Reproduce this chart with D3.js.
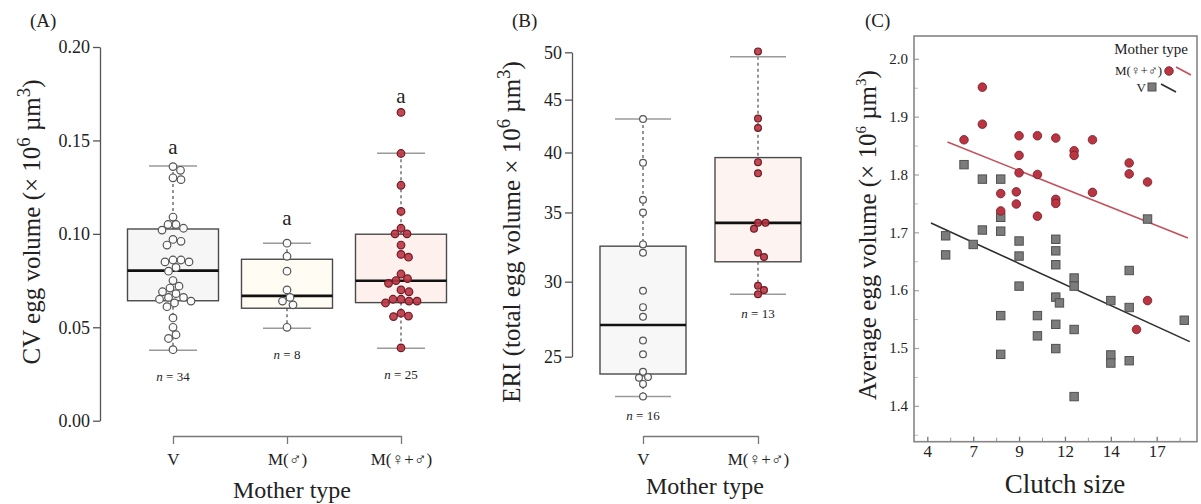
<!DOCTYPE html>
<html>
<head>
<meta charset="utf-8">
<script src="https://cdn.jsdelivr.net/npm/d3@7"></script>
<style>
  body { margin: 0; background: #fff; }
  svg text { font-family: "Liberation Serif", "Times New Roman", serif; fill: #222; }
</style>
</head>
<body>
<svg id="fig" width="1201" height="504"></svg>
<script>
// ---- panel A : CV egg volume by mother type ----
var catsA = ['V', 'M(\u2642)', 'M(\u2640+\u2642)'];
var cvV = [0.136, 0.134, 0.129, 0.130, 0.109, 0.105, 0.103, 0.102, 0.105, 0.097, 0.096, 0.094,
           0.086, 0.085, 0.085, 0.086, 0.082, 0.080, 0.075, 0.072, 0.071, 0.069, 0.068, 0.066,
           0.065, 0.066, 0.064, 0.063, 0.061, 0.055, 0.050, 0.046, 0.044, 0.038];
var cvMm = [0.095, 0.088, 0.080, 0.070, 0.066, 0.064, 0.062, 0.050];
var cvMfm = [0.165, 0.143, 0.126, 0.112, 0.103, 0.100, 0.100, 0.094, 0.089, 0.0875, 0.0785, 0.076,
             0.075, 0.0735, 0.070, 0.069, 0.065, 0.064, 0.063, 0.064, 0.065, 0.0575, 0.0557, 0.056, 0.039];
var q1A = [0.0642, 0.0602, 0.0632];
var medA = [0.0803, 0.0668, 0.0749];
var q3A = [0.1026, 0.0864, 0.0998];
var loA = [0.0377, 0.0495, 0.0388];
var hiA = [0.1363, 0.0950, 0.1431];
var nA = [34, 8, 25];
var letterA = ['a', 'a', 'a'];
var letterYA = [0.143, 0.105, 0.170];
var yTicksA = [0, 0.05, 0.10, 0.15, 0.20];

// ---- panel B : ERI by mother type ----
var catsB = ['V', 'M(\u2640+\u2642)'];
var eriV = [43.1, 39.1, 36.0, 35.0, 32.6, 32.0, 29.35, 28.2, 27.55, 26.0, 25.15, 24.1, 23.8, 23.75, 23.4, 22.7];
var eriM = [50.1, 43.15, 42.25, 39.15, 38.2, 34.2, 34.2, 33.75, 32.0, 31.7, 29.7, 29.4, 29.1];
var q1B = [23.97, 31.36];
var medB = [27.0, 34.2];
var q3B = [32.47, 39.55];
var loB = [22.7, 29.1];
var hiB = [43.1, 49.5];
var nB = [16, 13];
var yTicksB = [25, 30, 35, 40, 45, 50];

// ---- panel C : average egg volume vs clutch size ----
var xRed = [6, 7, 7, 9, 9, 9, 10, 10, 11, 12, 12, 13, 15, 15, 16, 8, 8.85, 8, 8.85, 10, 11, 11, 13, 16, 15.4];
var yRed = [1.860, 1.951, 1.887, 1.867, 1.833, 1.803, 1.867, 1.800, 1.863, 1.841, 1.833, 1.860, 1.820,
            1.801, 1.787, 1.767, 1.770, 1.737, 1.749, 1.728, 1.757, 1.750, 1.769, 1.582, 1.532];
var xGray = [6, 7, 8, 8, 7, 8, 5, 6.5, 9, 11, 16, 5, 9, 11, 11, 12, 12, 9, 11, 11.2, 14, 15, 15, 18,
             8, 10, 11, 12, 10, 11, 8, 14, 14, 15, 12];
var yGray = [1.817, 1.792, 1.792, 1.726, 1.704, 1.702, 1.694, 1.679, 1.685, 1.688, 1.723, 1.661, 1.659,
             1.668, 1.644, 1.621, 1.607, 1.607, 1.588, 1.578, 1.582, 1.634, 1.570, 1.548, 1.556, 1.556,
             1.541, 1.532, 1.521, 1.499, 1.489, 1.488, 1.474, 1.478, 1.416];
var fitRedX = [5.1, 18.2], fitRedY = [1.856, 1.690];
var fitGrayX = [4.2, 18.3], fitGrayY = [1.716, 1.511];
var xTicksC = [4, 6.5, 9, 11.5, 14, 16.5];
var xTickLabelsC = ['4', '7', '9', '12', '14', '17'];
var xMinorC = [5.25, 7.75, 10.25, 12.75, 15.25, 17.75];
var yTicksC = [1.4, 1.5, 1.6, 1.7, 1.8, 1.9, 2.0];
var yMinorC = [1.35, 1.45, 1.55, 1.65, 1.75, 1.85, 1.95];

var RED = '#bb3442', RED_STROKE = '#6e1c24';

var svg = d3.select('#fig');

// simple beeswarm: push each point sideways until it no longer overlaps
function swarm(vals, y, cx, r) {
  var pts = vals.map(v => ({v: v, py: y(v)})).sort((a, b) => a.py - b.py);
  var placed = [];
  var d = r * 2.1;
  pts.forEach(p => {
    for (var k = 0; k < 400; k++) {
      var off = (k % 2 ? 1 : -1) * Math.ceil(k / 2) * 0.5;
      var ok = placed.every(q => (q.px - (cx + off)) ** 2 + (q.py - p.py) ** 2 >= d * d);
      if (ok) { p.px = cx + off; break; }
    }
    placed.push(p);
  });
  return pts;
}

function boxPanel(g, cats, x, y, groups, st, opt) {
  cats.forEach((c, i) => {
    var cx = x(c), w = opt.boxW;
    // whiskers
    g.append('line').attr('x1', cx).attr('x2', cx).attr('y1', y(st.hi[i])).attr('y2', y(st.q3[i]))
      .attr('stroke', '#666').attr('stroke-width', 1.4).attr('stroke-dasharray', '3,3');
    g.append('line').attr('x1', cx).attr('x2', cx).attr('y1', y(st.q1[i])).attr('y2', y(st.lo[i]))
      .attr('stroke', '#666').attr('stroke-width', 1.4).attr('stroke-dasharray', '3,3');
    [st.hi[i], st.lo[i]].forEach(v => {
      g.append('line').attr('x1', cx - opt.capW).attr('x2', cx + opt.capW)
        .attr('y1', y(v)).attr('y2', y(v)).attr('stroke', '#9a9a9a').attr('stroke-width', 1.5);
    });
    g.append('rect').attr('x', cx - w / 2).attr('width', w)
      .attr('y', y(st.q3[i])).attr('height', y(st.q1[i]) - y(st.q3[i]))
      .attr('fill', opt.fills[i]).attr('stroke', '#4a4a4a').attr('stroke-width', 1.4);
    g.append('line').attr('x1', cx - w / 2).attr('x2', cx + w / 2)
      .attr('y1', y(st.med[i])).attr('y2', y(st.med[i])).attr('stroke', '#111').attr('stroke-width', 2.6);

    var red = opt.red[i];
    g.selectAll('circle.p' + i).data(swarm(groups[i], y, cx, opt.r)).join('circle')
      .attr('class', 'p' + i)
      .attr('cx', d => d.px).attr('cy', d => d.py).attr('r', opt.r)
      .attr('fill', red ? RED : '#fbfbfb').attr('fill-opacity', red ? 0.9 : 1)
      .attr('stroke', red ? RED_STROKE : '#555').attr('stroke-width', 1.2);

    g.append('text').attr('x', cx).attr('y', y(st.lo[i]) + opt.nOff)
      .attr('text-anchor', 'middle').attr('font-size', 13)
      .html('<tspan font-style="italic">n</tspan> = ' + opt.n[i]);
    if (opt.letters) {
      g.append('text').attr('x', cx).attr('y', y(opt.letterY[i]))
        .attr('text-anchor', 'middle').attr('font-size', 21).text(opt.letters[i]);
    }
  });
}

function styleAxis(sel, size) {
  sel.selectAll('text').attr('font-size', size).attr('fill', '#333')
    .style('font-family', '"Liberation Serif", serif');
  sel.selectAll('line').attr('stroke', '#555').attr('stroke-width', 1.3);
  sel.selectAll('path').attr('stroke', '#555').attr('stroke-width', 1.3);
}

function yTitle(x, y, size, main, sup1, mid, sup2, end, supSize) {
  var t = svg.append('text').attr('transform', `translate(${x},${y}) rotate(-90)`)
    .attr('text-anchor', 'middle').attr('font-size', size);
  t.append('tspan').text(main);
  t.append('tspan').attr('dy', -size * 0.42).attr('font-size', size * supSize).text(sup1);
  t.append('tspan').attr('dy', size * 0.42).text(mid);
  t.append('tspan').attr('dy', -size * 0.42).attr('font-size', size * supSize).text(sup2);
  t.append('tspan').attr('dy', size * 0.42).text(end);
}

// ================= Panel A =================
var xA = d3.scalePoint().domain(catsA).range([173, 401]);
var yA = d3.scaleLinear().domain([0, 0.2]).range([420.7, 47]);
var gA = svg.append('g');

gA.append('g').attr('transform', 'translate(100,0)')
  .call(d3.axisLeft(yA).tickValues(yTicksA).tickFormat(d3.format('.2f')).tickSize(7).tickSizeOuter(0).tickPadding(3))
  .call(s => styleAxis(s, 18));
gA.append('g').attr('transform', 'translate(0,436)')
  .call(d3.axisBottom(xA).tickSize(8).tickSizeOuter(0).tickPadding(9))
  .call(s => styleAxis(s, 17))
  .call(s => s.selectAll('line, path').attr('stroke', '#777'));

boxPanel(gA, catsA, xA, yA, [cvV, cvMm, cvMfm],
  {q1: q1A, med: medA, q3: q3A, lo: loA, hi: hiA},
  {boxW: 91, capW: 24, r: 3.8, fills: ['#f6f6f6', '#fffdf3', '#fdf0ed'], red: [false, false, true],
   n: nA, nOff: 31, letters: letterA, letterY: letterYA});

svg.append('text').attr('x', 30).attr('y', 27).attr('font-size', 19).text('(A)');
yTitle(40, 222, 25, 'CV egg volume (\u00d7 10', '6', ' \u00b5m', '3', ')', 0.75);
svg.append('text').attr('x', 292).attr('y', 498).attr('text-anchor', 'middle').attr('font-size', 24).text('Mother type');

// ================= Panel B =================
var xB = d3.scalePoint().domain(catsB).range([643, 758]);
var yB = d3.scaleLog().domain([25, 30, 50]).range([356.7, 281.7, 52.3]);
var gB = svg.append('g');

gB.append('g').attr('transform', 'translate(572,0)')
  .call(d3.axisLeft(yB).tickValues(yTicksB).tickFormat(d3.format('d')).tickSize(7).tickSizeOuter(0).tickPadding(3))
  .call(s => styleAxis(s, 18));
gB.append('g').attr('transform', 'translate(0,436)')
  .call(d3.axisBottom(xB).tickSize(8).tickSizeOuter(0).tickPadding(9))
  .call(s => styleAxis(s, 17))
  .call(s => s.selectAll('line, path').attr('stroke', '#777'));

boxPanel(gB, catsB, xB, yB, [eriV, eriM],
  {q1: q1B, med: medB, q3: q3B, lo: loB, hi: hiB},
  {boxW: 86, capW: 28, r: 3.4, fills: ['#f7f7f7', '#fdf4f1'], red: [false, true], n: nB, nOff: 24});

svg.append('text').attr('x', 512).attr('y', 27).attr('font-size', 19).text('(B)');
yTitle(520, 232, 25, 'ERI (total egg volume \u00d7 10', '6', ' \u00b5m', '3', ')', 0.75);
svg.append('text').attr('x', 705).attr('y', 494).attr('text-anchor', 'middle').attr('font-size', 24).text('Mother type');

// ================= Panel C =================
var xC = d3.scaleLinear().domain([3.275, 18.75]).range([914, 1198]);
var yC = d3.scaleLinear().domain([1.338, 2.036]).range([441.7, 38]);
var gC = svg.append('g');

gC.append('g').attr('transform', 'translate(914,0)')
  .call(d3.axisLeft(yC).tickValues(yTicksC).tickFormat(d3.format('.1f')).tickSize(-5).tickPadding(6))
  .call(s => styleAxis(s, 15))
  .call(s => s.select('.domain').remove())
  .call(s => s.selectAll('line').attr('stroke', '#aaa'));
gC.append('g').attr('transform', 'translate(914,0)')
  .call(d3.axisLeft(yC).tickValues(yMinorC).tickFormat('').tickSize(-4))
  .call(s => s.select('.domain').remove())
  .call(s => s.selectAll('line').attr('stroke', '#bbb'));
gC.append('g').attr('transform', 'translate(0,441.7)')
  .call(d3.axisBottom(xC).tickValues(xTicksC).tickFormat((d, i) => xTickLabelsC[i]).tickSize(-5).tickPadding(3))
  .call(s => styleAxis(s, 17))
  .call(s => s.select('.domain').remove())
  .call(s => s.selectAll('line').attr('stroke', '#777'));
gC.append('g').attr('transform', 'translate(0,441.7)')
  .call(d3.axisBottom(xC).tickValues(xMinorC).tickFormat('').tickSize(-4))
  .call(s => s.select('.domain').remove())
  .call(s => s.selectAll('line').attr('stroke', '#999'));

gC.append('rect').attr('x', 914).attr('y', 36).attr('width', 283).attr('height', 405.7)
  .attr('fill', 'none').attr('stroke', '#858585').attr('stroke-width', 1.6);

var line = d3.line().x(d => xC(d[0])).y(d => yC(d[1]));
gC.append('path').attr('d', line(d3.zip(fitRedX, fitRedY)))
  .attr('stroke', '#c4505c').attr('stroke-width', 1.6).attr('fill', 'none');
gC.append('path').attr('d', line(d3.zip(fitGrayX, fitGrayY)))
  .attr('stroke', '#2e2e2e').attr('stroke-width', 1.6).attr('fill', 'none');

gC.selectAll('rect.sq').data(d3.zip(xGray, yGray)).join('rect').attr('class', 'sq')
  .attr('x', d => xC(d[0]) - 4.2).attr('y', d => yC(d[1]) - 4.2)
  .attr('width', 8.4).attr('height', 8.4)
  .attr('fill', '#7c7c7c').attr('stroke', '#505050').attr('stroke-width', 1);
gC.selectAll('circle.pt').data(d3.zip(xRed, yRed)).join('circle').attr('class', 'pt')
  .attr('cx', d => xC(d[0])).attr('cy', d => yC(d[1])).attr('r', 4.3)
  .attr('fill', RED).attr('stroke', RED_STROKE).attr('stroke-width', 0.8);

// legend
var lg = gC.append('g');
lg.append('text').attr('x', 1188).attr('y', 54).attr('text-anchor', 'end').attr('font-size', 15).text('Mother type');
lg.append('text').attr('x', 1162).attr('y', 75).attr('text-anchor', 'end').attr('font-size', 13).text('M(\u2640+\u2642)');
lg.append('circle').attr('cx', 1169).attr('cy', 71).attr('r', 4.3).attr('fill', RED).attr('stroke', RED_STROKE).attr('stroke-width', 0.8);
lg.append('line').attr('x1', 1176).attr('y1', 67).attr('x2', 1191).attr('y2', 75).attr('stroke', '#c4505c').attr('stroke-width', 1.6);
lg.append('text').attr('x', 1146).attr('y', 92).attr('text-anchor', 'end').attr('font-size', 13).text('V');
lg.append('rect').attr('x', 1148).attr('y', 83).attr('width', 8).attr('height', 8).attr('fill', '#7c7c7c').attr('stroke', '#505050');
lg.append('line').attr('x1', 1161).attr('y1', 84).attr('x2', 1176).attr('y2', 92).attr('stroke', '#2e2e2e').attr('stroke-width', 1.6);

svg.append('text').attr('x', 865).attr('y', 27).attr('font-size', 19).text('(C)');
yTitle(876, 235, 25, 'Average egg volume (\u00d7 10', '6', ' \u00b5m', '3', ')', 0.6);
svg.append('text').attr('x', 1065).attr('y', 493).attr('text-anchor', 'middle').attr('font-size', 27).text('Clutch size');
</script>
</body>
</html>
